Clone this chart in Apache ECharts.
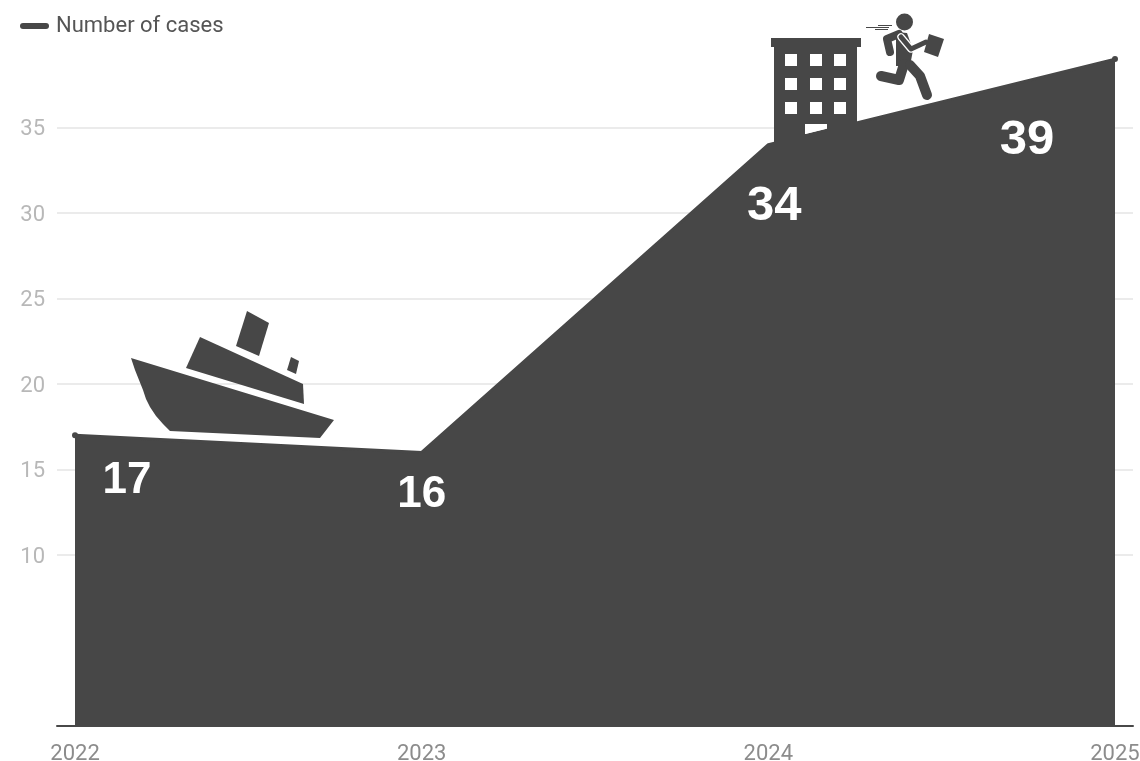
<!DOCTYPE html>
<html>
<head>
<meta charset="utf-8">
<style>html,body{margin:0;padding:0;background:#fff}#chart{width:1140px;height:761px}</style>
<script src="https://cdn.jsdelivr.net/npm/echarts@6/dist/echarts.min.js"></script>
</head>
<body>
<div id="chart"></div>
<script>
// Reported cases per year
const seriesName = 'Number of cases';
const years = [2022, 2023, 2024, 2025];
const cases = [17, 16, 34, 39];
const yTickValues = [10, 15, 20, 25, 30, 35];

const INK = '#474747';
const ICON_Z = 50;

// Per-point placement and size of the large white value labels
const labelStyles = [
  { offset: [52, 46], size: 44 },
  { offset: [0, 42], size: 44 },
  { offset: [6, 62], size: 49 },
  { offset: [-88, 81], size: 49 }
];

const solid = (points, fill) => ({ type: 'polygon', z: ICON_Z, silent: true, shape: { points }, style: { fill: fill || INK } });
const limb = (points, width, color) => ({
  type: 'polyline', z: ICON_Z, silent: true, shape: { points },
  style: { stroke: color || INK, lineWidth: width, lineCap: 'round', lineJoin: 'round', fill: 'none' }
});
const hair = (x1, x2, y) => ({
  type: 'line', z: ICON_Z, silent: true, shape: { x1, y1: y, x2, y2: y },
  style: { stroke: INK, lineWidth: 1 }
});
const hole = (x, y, width, height) => ({
  type: 'rect', z: ICON_Z, silent: true, shape: { x, y, width, height }, style: { fill: '#fff' }
});

// Ship icon above the first segment
const ship = [
  solid([[131, 358], [334, 420], [320, 438], [170, 431], [163, 424], [156, 416], [150, 407], [146, 399], [143, 390], [139, 380], [135, 370]]),
  solid([[200, 337], [303, 384], [304, 404], [186, 368]]),
  solid([[247, 311], [269, 323], [259, 356], [236, 346]]),
  solid([[291, 357], [299, 361], [296, 374], [287, 370]])
];

// Building icon with a door cut out of its base
const building = [
  solid([[771, 38], [861, 38], [861, 47], [857, 47], [857, 151], [827, 151], [827, 124], [805, 124], [805, 151], [774, 151], [774, 47], [771, 47]]),
  solid([[805, 124], [827, 124], [827, 128.5], [805, 134]], '#fff')
];
[785, 810, 834].forEach((x) => {
  [54, 78, 102].forEach((y) => building.push(hole(x, y, 12, 12)));
});

// Running figure carrying a briefcase
const runner = [
  hair(866, 889, 27.5), hair(878, 892, 25.5), hair(875, 888, 29.5),
  { type: 'circle', z: ICON_Z, silent: true, shape: { cx: 904.5, cy: 22, r: 8.5 }, style: { fill: INK } },
  limb([[899, 34], [887, 39], [890, 52]], 8),
  solid([[896, 32], [907, 33], [913, 50], [910, 66], [896, 66]]),
  limb([[904, 64], [899, 80], [881, 76]], 10),
  limb([[910, 65], [920, 76], [927, 95]], 10),
  limb([[901, 37], [911, 49], [926, 42]], 7.5, '#fff'),
  limb([[901, 37], [911, 49], [926, 42]], 5),
  solid([[929, 34], [944, 39], [938, 57], [924, 52]])
];

const chart = echarts.init(document.getElementById('chart'), null, { renderer: 'canvas' });
chart.setOption({
  animation: false,
  backgroundColor: '#fff',
  textStyle: { fontFamily: 'Roboto' },
  legend: {
    left: 15, top: 10,
    icon: 'path://M3 0H26A3 3 0 0 1 26 6H3A3 3 0 0 1 3 0Z',
    itemWidth: 29, itemHeight: 6, itemGap: 6,
    data: [seriesName],
    textStyle: { fontFamily: 'Roboto', fontSize: 22, color: '#555', padding: [2, 0, 0, 2] }
  },
  grid: { left: 57, right: 7, top: 42, bottom: 35, containLabel: false, outerBoundsMode: 'none' },
  xAxis: {
    type: 'value',
    min: 2021.948, max: 2025.052,
    axisLine: { show: true, onZero: false, lineStyle: { color: '#484848', width: 2 } },
    axisTick: { show: false, customValues: years },
    splitLine: { show: false },
    axisLabel: {
      customValues: years,
      formatter: (v) => String(v),
      color: '#8c8c8c', fontSize: 22, margin: 17, fontFamily: 'Roboto'
    }
  },
  yAxis: {
    type: 'value',
    min: 0, max: 40,
    axisLine: { show: false },
    axisTick: { show: false, customValues: yTickValues },
    splitLine: { show: true, lineStyle: { color: '#ebebeb', width: 2 } },
    axisLabel: {
      customValues: yTickValues,
      color: '#b8b8b8', fontSize: 22, margin: 12, fontFamily: 'Roboto',
      verticalAlign: 'top', padding: [-9, 0, 0, 0]
    }
  },
  series: [{
    name: seriesName,
    type: 'line',
    showSymbol: true,
    showAllSymbol: true,
    symbol: 'circle',
    z: 10,
    lineStyle: { color: INK, width: 3 },
    itemStyle: { color: INK },
    areaStyle: { color: INK, opacity: 1 },
    data: years.map((year, i) => ({
      value: [year, cases[i]],
      // Only the two ends of the line carry a visible round cap
      symbolSize: i === 0 || i === years.length - 1 ? 6 : 1,
      label: {
        show: true,
        position: 'inside',
        formatter: String(cases[i]),
        offset: labelStyles[i].offset,
        fontSize: labelStyles[i].size,
        fontWeight: 'bold',
        fontFamily: 'Liberation Sans',
        color: '#fff'
      }
    }))
  }],
  graphic: { elements: [...ship, ...building, ...runner] }
});
</script>
</body>
</html>
